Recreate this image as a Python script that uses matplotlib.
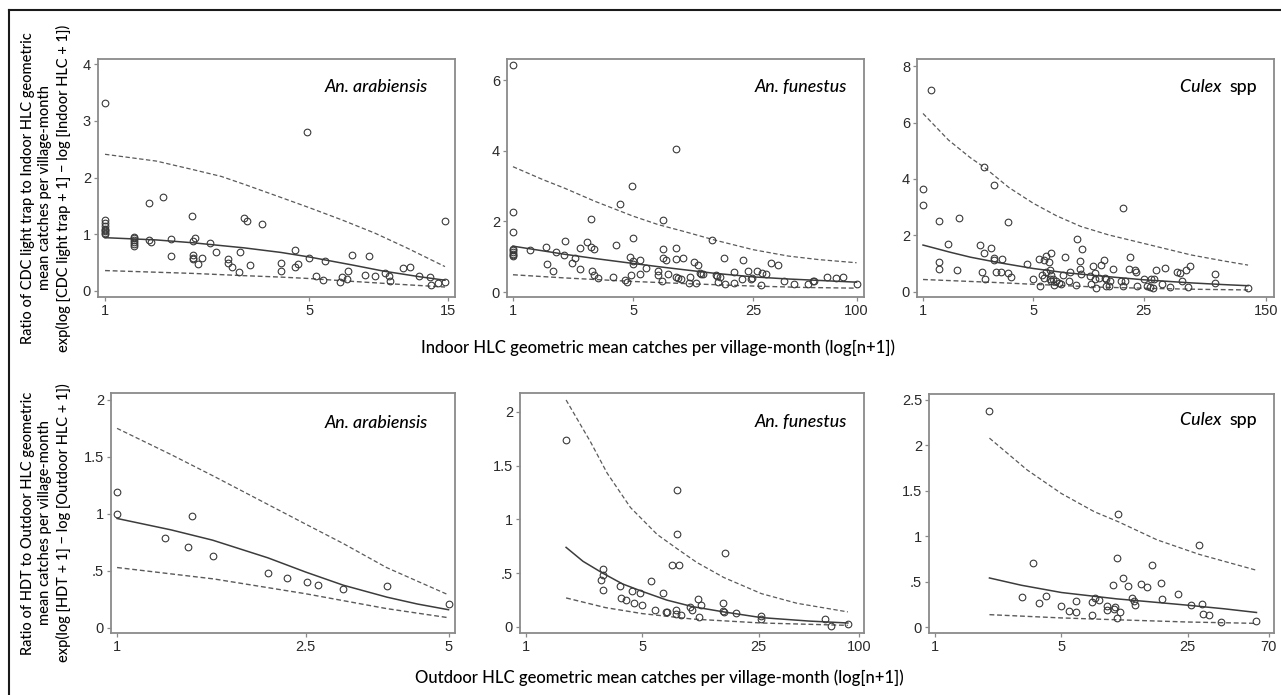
import matplotlib
matplotlib.use("Agg")
import matplotlib.pyplot as plt
from matplotlib.lines import Line2D

W, H = 1281, 695

# ---------------- data ----------------
# Panel 1: An. arabiensis, CDC light trap vs indoor HLC
p1_x = [1, 1, 1, 1, 1, 1, 1, 1, 1,
        1.26, 1.26, 1.26, 1.26, 1.26, 1.26,
        1.41, 1.58, 1.41, 1.44, 1.68, 1.68,
        1.99, 2.0, 2.04, 2.0, 2.0, 2.0, 2.08, 2.15, 2.29, 2.4,
        2.63, 2.63, 2.73, 2.87, 2.89, 2.99, 3.06, 3.13, 3.46,
        4.0, 4.0, 4.47, 4.47, 4.58, 4.9, 5.0, 5.3, 5.58, 5.65,
        6.36, 6.48, 6.75, 6.8, 7.0, 7.8, 8.0, 8.4, 9.1, 9.4, 9.5,
        10.5, 11.1, 11.9, 13.0, 13.1, 13.8, 14.6, 14.6]
p1_y = [3.31, 1.00, 1.02, 1.05, 1.08, 1.10, 1.15, 1.20, 1.25,
        0.96, 0.93, 0.90, 0.87, 0.83, 0.80,
        1.55, 1.65, 0.90, 0.86, 0.91, 0.62,
        1.32, 0.88, 0.94, 0.63, 0.59, 0.56, 0.47, 0.59, 0.84, 0.68,
        0.56, 0.50, 0.43, 0.34, 0.69, 1.29, 1.23, 0.45, 1.18,
        0.50, 0.35, 0.73, 0.43, 0.47, 2.80, 0.59, 0.26, 0.19, 0.53,
        0.15, 0.24, 0.22, 0.35, 0.635, 0.29, 0.62, 0.27, 0.32, 0.27, 0.18,
        0.41, 0.42, 0.26, 0.25, 0.10, 0.14, 0.15, 1.23]
p1_fit_x = [1, 1.5, 2, 3, 4, 5, 7, 9, 12, 14.6]
p1_fit = [0.94, 0.90, 0.85, 0.76, 0.68, 0.60, 0.46, 0.35, 0.25, 0.19]
p1_up_x = [1, 1.5, 2, 2.5, 3, 4, 5, 6.5, 8.4, 10.8, 12.5, 14.6]
p1_up = [2.41, 2.29, 2.14, 2.02, 1.88, 1.65, 1.47, 1.25, 1.02, 0.76, 0.60, 0.43]
p1_lo_x = [1, 2, 3, 4, 5, 7, 10, 14.6]
p1_lo = [0.36, 0.31, 0.27, 0.245, 0.22, 0.17, 0.12, 0.07]

# Panel 2: An. funestus, CDC light trap vs indoor HLC
p2_x = [1, 1, 1, 1, 1, 1, 1, 1, 1,
        1.25, 1.55, 1.58, 1.70, 1.77, 1.98, 2.0,
        2.22, 2.29, 2.46, 2.46, 2.70, 2.83, 2.83, 2.88, 2.96, 2.96, 3.12,
        3.82, 3.99, 4.18, 4.5, 4.62, 4.77, 4.88, 4.96, 5.0, 5.0, 5.0,
        5.52, 5.52, 5.93, 7.02, 7.02, 7.38, 7.5, 7.5, 7.5, 7.77, 7.95,
        8.94, 8.94, 8.94, 8.94, 9.1, 9.5, 9.78,
        10.6, 10.7, 11.3, 11.6, 12.0, 12.3, 12.5, 12.8,
        14.4, 15.2, 15.5, 15.7, 16.0, 16.9, 17.1,
        19.3, 19.3, 21.4, 21.9, 23.4, 24.2, 24.5,
        26.4, 28.1, 29.9, 27.7, 31.8, 35.1, 37.7, 43.3,
        52.4, 55.6, 56.8, 67.5, 76.0, 82.9, 100]
p2_y = [6.43, 2.28, 1.70, 1.23, 1.18, 1.13, 1.09, 1.05, 1.01,
        1.18, 1.28, 0.80, 0.60, 1.13, 1.06, 1.46,
        0.83, 0.96, 0.66, 1.24, 1.41, 2.08, 1.28, 0.61, 1.23, 0.47, 0.41,
        0.43, 1.32, 2.50, 0.35, 0.28, 0.99, 0.47, 3.00, 1.52, 0.88, 0.80,
        0.92, 0.52, 0.69, 0.59, 0.47, 0.31, 2.03, 1.23, 0.97, 0.90, 0.52,
        4.04, 1.25, 0.93, 0.43, 0.41, 0.38, 0.96,
        0.26, 0.44, 0.85, 0.26, 0.76, 0.54, 0.50, 0.50,
        1.48, 0.47, 0.45, 0.28, 0.43, 0.97, 0.24,
        0.57, 0.26, 0.38, 0.92, 0.61, 0.38, 0.41,
        0.59, 0.54, 0.50, 0.19, 0.82, 0.76, 0.31, 0.24,
        0.22, 0.30, 0.30, 0.43, 0.41, 0.43, 0.24]
p2_fit_x = [1, 2, 3, 5, 7, 10, 15, 25, 40, 60, 100]
p2_fit = [1.30, 1.07, 0.95, 0.81, 0.72, 0.63, 0.53, 0.43, 0.37, 0.33, 0.28]
p2_up_x = [1, 1.5, 2, 3, 5, 7, 10, 15, 25, 40, 60, 100]
p2_up = [3.55, 3.18, 2.94, 2.57, 2.15, 1.91, 1.71, 1.47, 1.20, 1.02, 0.92, 0.83]
p2_lo_x = [1, 2, 5, 10, 25, 50, 100]
p2_lo = [0.49, 0.40, 0.30, 0.24, 0.17, 0.13, 0.11]

# Panel 3: Culex spp, CDC light trap vs indoor HLC
p3_x = [1.12, 1, 1, 1.26, 1.26, 1.26, 1.45, 1.65, 1.70,
        2.29, 2.35, 2.45, 2.45, 2.48, 2.7, 2.82, 2.82, 2.82, 2.89, 3.11, 3.17,
        3.48, 3.48, 3.61, 4.58, 5.0,
        5.45, 5.5, 5.64, 5.86, 5.98, 5.86, 5.98,
        6.27, 6.45, 6.42, 6.5, 6.35, 6.5, 6.7,
        6.77, 7.0, 7.25, 7.54, 7.75, 8.0, 8.43, 8.5, 9.3, 9.53,
        9.95, 9.95, 10.1, 10.25, 11.4, 11.6, 12.0, 12.3, 12.3, 12.5,
        13.1, 13.5, 14.0, 14.3, 14.5, 14.5, 15.2, 15.4, 16.0,
        18.1, 18.4, 19.0, 18.5, 20.3, 20.4, 22.2, 22.4, 22.6,
        25.1, 26.3, 27.3, 28.7, 28.0, 29.1, 30.1, 32.9, 34.0, 36.9,
        40.7, 42.3, 44.0, 46.6, 47.8, 49.6, 71, 71, 115]
p3_y = [7.14, 3.65, 3.08, 2.52, 1.06, 0.81, 1.69, 0.78, 2.62,
        1.67, 0.71, 1.38, 4.41, 0.46, 1.56, 3.79, 1.19, 1.13, 0.72, 0.72, 1.18,
        2.49, 0.67, 0.52, 0.99, 0.46,
        1.16, 0.20, 0.60, 1.13, 1.26, 0.49, 0.69,
        1.05, 1.38, 0.76, 0.61, 0.44, 0.38, 0.44,
        0.26, 0.38, 0.32, 0.29, 0.61, 1.22, 0.38, 0.69, 0.26, 1.87,
        1.11, 0.81, 0.65, 1.52, 0.58, 0.28, 0.91, 0.67, 0.44, 0.14,
        0.49, 0.96, 1.14, 0.49, 0.46, 0.22, 0.20, 0.40, 0.82,
        0.38, 0.22, 0.38, 2.99, 0.81, 1.24, 0.76, 0.69, 0.20,
        0.44, 0.22, 0.18, 0.14, 0.46, 0.46, 0.79, 0.29, 0.85, 0.18,
        0.69, 0.67, 0.40, 0.76, 0.18, 0.91, 0.64, 0.32, 0.14]
p3_fit_x = [1, 1.5, 2, 3, 5, 8, 13, 25, 50, 80, 115]
p3_fit = [1.66, 1.40, 1.23, 1.04, 0.83, 0.68, 0.57, 0.43, 0.32, 0.26, 0.22]
p3_up_x = [1, 1.45, 2, 2.45, 3.5, 5, 7, 10, 15, 25, 50, 80, 115]
p3_up = [6.32, 5.38, 4.75, 4.41, 3.70, 3.14, 2.70, 2.32, 2.02, 1.72, 1.31, 1.10, 0.95]
p3_lo_x = [1, 3, 5, 13, 30, 60, 115]
p3_lo = [0.44, 0.33, 0.27, 0.17, 0.12, 0.09, 0.07]

# Panel 4: An. arabiensis, HDT vs outdoor HLC
p4_x = [1, 1, 1.26, 1.41, 1.44, 1.59, 2.08, 2.28, 2.52, 2.65, 3.0, 3.71, 5.0]
p4_y = [1.19, 1.00, 0.79, 0.71, 0.98, 0.63, 0.48, 0.44, 0.40, 0.38, 0.34, 0.37, 0.21]
p4_fit_x = [1, 1.3, 1.59, 2.08, 2.5, 3.0, 3.71, 4.3, 5.0]
p4_fit = [0.96, 0.86, 0.77, 0.615, 0.49, 0.375, 0.27, 0.21, 0.16]
p4_up_x = [1, 1.3, 1.6, 2.0, 2.5, 3.0, 3.7, 4.3, 5.0]
p4_up = [1.75, 1.52, 1.33, 1.12, 0.91, 0.74, 0.53, 0.41, 0.29]
p4_lo_x = [1, 1.6, 2.5, 3.7, 5.0]
p4_lo = [0.53, 0.43, 0.30, 0.17, 0.09]

# Panel 5: An. funestus, HDT vs outdoor HLC
p5_x = [1.74, 2.82, 2.89, 2.89, 2.89, 3.65, 3.72, 3.98, 4.31, 4.45, 4.82, 5.0,
        5.59, 5.93, 6.62, 6.94, 7.04, 7.52, 7.96, 7.96, 8.03, 8.03, 8.33, 8.52,
        9.71, 9.94, 10.8, 10.9, 11.2, 15.3, 15.3, 15.4, 15.7, 18.3,
        25.9, 25.9, 62, 68, 85.6]
p5_y = [1.74, 0.44, 0.54, 0.48, 0.34, 0.38, 0.27, 0.25, 0.33, 0.22, 0.32, 0.20,
        0.43, 0.16, 0.32, 0.14, 0.14, 0.58, 0.155, 0.12, 1.27, 0.865, 0.58, 0.115,
        0.19, 0.16, 0.26, 0.09, 0.20, 0.22, 0.15, 0.14, 0.69, 0.13,
        0.10, 0.07, 0.07, 0.01, 0.03]
p5_fit_x = [1.74, 2.2, 2.89, 3.8, 5.0, 7.0, 9.94, 15.4, 25.9, 50, 85.6]
p5_fit = [0.74, 0.61, 0.50, 0.40, 0.33, 0.25, 0.19, 0.14, 0.087, 0.055, 0.037]
p5_up_x = [1.74, 2.44, 3.07, 4.24, 6.13, 8.03, 10.6, 15.4, 25.9, 42.4, 85.6]
p5_up = [2.11, 1.72, 1.43, 1.11, 0.86, 0.73, 0.60, 0.46, 0.31, 0.22, 0.14]
p5_lo_x = [1.74, 3.0, 5.0, 9.94, 25.9, 85.6]
p5_lo = [0.27, 0.18, 0.124, 0.074, 0.037, 0.015]

# Panel 6: Culex spp, HDT vs outdoor HLC
p6_x = [2.0, 3.01, 3.48, 3.77, 4.13, 5.0, 5.49, 6.03, 6.03, 7.34, 7.4, 7.65,
        8.09, 8.9, 8.9, 9.62, 9.75, 9.96, 10.1, 10.1, 10.3, 10.6, 10.9, 11.7,
        12.3, 12.6, 12.8, 13.8, 14.8, 15.9, 17.8, 18.0, 22.0, 26.2, 28.9,
        30.0, 30.3, 32.6, 38.4, 60.0]
p6_y = [2.38, 0.33, 0.70, 0.265, 0.34, 0.235, 0.18, 0.29, 0.16, 0.28, 0.13, 0.32,
        0.30, 0.23, 0.19, 0.46, 0.20, 0.22, 0.76, 0.10, 1.24, 0.165, 0.54, 0.45,
        0.32, 0.29, 0.24, 0.47, 0.44, 0.68, 0.485, 0.31, 0.36, 0.245, 0.90,
        0.25, 0.14, 0.13, 0.06, 0.07]
p6_fit_x = [2.0, 3.0, 5.0, 10.1, 15.0, 25.0, 40.0, 60.0]
p6_fit = [0.54, 0.46, 0.38, 0.31, 0.28, 0.24, 0.20, 0.16]
p6_up_x = [2.0, 3.23, 5.0, 7.6, 10.3, 16.9, 28.9, 60.0]
p6_up = [2.08, 1.73, 1.47, 1.27, 1.16, 0.96, 0.80, 0.625]
p6_lo_x = [2.0, 5.0, 10.0, 25.0, 60.0]
p6_lo = [0.136, 0.10, 0.08, 0.055, 0.04]

species = ["An. arabiensis", "An. funestus", "Culex spp"]
xtick_sets = [[1, 5, 15], [1, 5, 25, 100], [1, 5, 25, 150],
              [1, 2.5, 5], [1, 5, 25, 100], [1, 5, 25, 70]]
xtick_labels = [["1", "5", "15"], ["1", "5", "25", "100"], ["1", "5", "25", "150"],
                ["1", "2.5", "5"], ["1", "5", "25", "100"], ["1", "5", "25", "70"]]
ytick_sets = [[0, 1, 2, 3, 4], [0, 2, 4, 6], [0, 2, 4, 6, 8],
              [0, 0.5, 1, 1.5, 2], [0, 0.5, 1, 1.5, 2], [0, 0.5, 1, 1.5, 2, 2.5]]
ytick_labels = [["0", "1", "2", "3", "4"], ["0", "2", "4", "6"], ["0", "2", "4", "6", "8"],
                ["0", ".5", "1", "1.5", "2"], ["0", ".5", "1", "1.5", "2"],
                ["0", ".5", "1", "1.5", "2", "2.5"]]
ylabel_top = ("Ratio of CDC light trap to Indoor HLC geometric\n"
              "mean catches per village-month\n"
              "exp(log [CDC light trap + 1] \u2212 log [Indoor HLC + 1])")
ylabel_bottom = ("Ratio of HDT to Outdoor HLC geometric\n"
                 "mean catches per village-month\n"
                 "exp(log [HDT + 1] \u2212 log [Outdoor HLC + 1])")
xlabel_top = "Indoor HLC geometric mean catches per village-month (log[n+1])"
xlabel_bottom = "Outdoor HLC geometric mean catches per village-month (log[n+1])"

# ---------------- layout ----------------
panels = [
    dict(box=(98, 59, 455, 297), xlim=(0.946, 15.8), ylim=(-0.106, 4.09),
         pts=(p1_x, p1_y), fit=(p1_fit_x, p1_fit), up=(p1_up_x, p1_up), lo=(p1_lo_x, p1_lo),
         sp=0, lab=(428, 87)),
    dict(box=(507, 59, 864, 297), xlim=(0.923, 110.5), ylim=(-0.14, 6.6),
         pts=(p2_x, p2_y), fit=(p2_fit_x, p2_fit), up=(p2_up_x, p2_up), lo=(p2_lo_x, p2_lo),
         sp=1, lab=(847, 87)),
    dict(box=(917, 59, 1274, 297), xlim=(0.916, 168), ylim=(-0.18, 8.25),
         pts=(p3_x, p3_y), fit=(p3_fit_x, p3_fit), up=(p3_up_x, p3_up), lo=(p3_lo_x, p3_lo),
         sp=2, lab=(1257, 87)),
    dict(box=(111, 393, 455, 633), xlim=(0.971, 5.16), ylim=(-0.044, 2.06),
         pts=(p4_x, p4_y), fit=(p4_fit_x, p4_fit), up=(p4_up_x, p4_up), lo=(p4_lo_x, p4_lo),
         sp=0, lab=(428, 423)),
    dict(box=(520, 393, 864, 633), xlim=(0.92, 107), ylim=(-0.056, 2.175),
         pts=(p5_x, p5_y), fit=(p5_fit_x, p5_fit), up=(p5_up_x, p5_up), lo=(p5_lo_x, p5_lo),
         sp=1, lab=(847, 422)),
    dict(box=(929, 394, 1274, 633), xlim=(0.926, 75), ylim=(-0.066, 2.566),
         pts=(p6_x, p6_y), fit=(p6_fit_x, p6_fit), up=(p6_up_x, p6_up), lo=(p6_lo_x, p6_lo),
         sp=2, lab=(1257, 420)),
]

LABEL_FONT = ["Lato", "DejaVu Sans"]
TICK_FONT = ["Liberation Sans", "DejaVu Sans"]
FRAME = "#8a8a8a"
TXT = "#000000"

fig = plt.figure(figsize=(W / 100, H / 100), dpi=100)


def fx(px):
    return px / W


def fy(py):
    return 1 - py / H


for i, p in enumerate(panels):
    l, t, r, b = p["box"]
    ax = fig.add_axes([fx(l), fy(b), (r - l) / W, (b - t) / H])
    ax.set_xscale("log")
    ax.set_xlim(*p["xlim"])
    ax.set_ylim(*p["ylim"])
    ax.plot(*p["up"], color="#5a5a5a", lw=0.9, dashes=(3.5, 2))
    ax.plot(*p["lo"], color="#5a5a5a", lw=1.0, dashes=(3.5, 2))
    ax.plot(*p["fit"], color="#3c3c3c", lw=1.1)
    ax.plot(*p["pts"], linestyle="none", marker="o", ms=4.8, mfc="none",
            mec="#3a3a3a", mew=0.8)
    ax.set_xticks(xtick_sets[i])
    ax.set_xticklabels(xtick_labels[i])
    ax.xaxis.set_minor_locator(matplotlib.ticker.NullLocator())
    ax.set_yticks(ytick_sets[i])
    ax.set_yticklabels(ytick_labels[i])
    for s in ax.spines.values():
        s.set_color(FRAME)
        s.set_linewidth(1.3)
    ax.tick_params(direction="out", length=3, width=0.9, color=FRAME,
                   labelcolor="#2a2a2a", labelsize=10.5, pad=2)
    for tl in ax.get_xticklabels() + ax.get_yticklabels():
        tl.set_family(TICK_FONT)

    # species label
    lx, ly = p["lab"]
    name = species[p["sp"]]
    if name.startswith("Culex"):
        t_spp = fig.text(fx(lx), fy(ly), "spp", ha="right", va="center",
                         fontsize=12.8, family=LABEL_FONT, color=TXT, weight=500)
        ax.annotate("Culex  ", xy=(0, 0.5), xycoords=t_spp, ha="right", va="center",
                    fontsize=12.8, family=LABEL_FONT, style="italic", color=TXT,
                    weight=500, annotation_clip=False)
    else:
        fig.text(fx(lx), fy(ly), name, ha="right", va="center", fontsize=12.8,
                 family=LABEL_FONT, style="italic", color=TXT, weight=500)

# y-axis labels
fig.text(fx(46), fy(188), ylabel_top, rotation=90, ha="center", va="center",
         multialignment="center", fontsize=10.5, family=LABEL_FONT, color=TXT,
         linespacing=1.3, weight=500)
fig.text(fx(46), fy(523), ylabel_bottom, rotation=90, ha="center", va="center",
         multialignment="center", fontsize=10.5, family=LABEL_FONT, color=TXT,
         linespacing=1.3, weight=500)
# x-axis labels
fig.text(fx(658), fy(348), xlabel_top, ha="center", va="center", fontsize=12,
         family=LABEL_FONT, color=TXT, weight=500)
fig.text(fx(659), fy(678), xlabel_bottom, ha="center", va="center", fontsize=12,
         family=LABEL_FONT, color=TXT, weight=500)

# outer frame (top and left edges visible in the reference)
fig.add_artist(Line2D([fx(9), fx(9)], [fy(10), 0], color="#1a1a1a", lw=1.5))
fig.add_artist(Line2D([fx(9), 1], [fy(10), fy(10)], color="#1a1a1a", lw=1.5))

fig.savefig("out.png", dpi=100)
